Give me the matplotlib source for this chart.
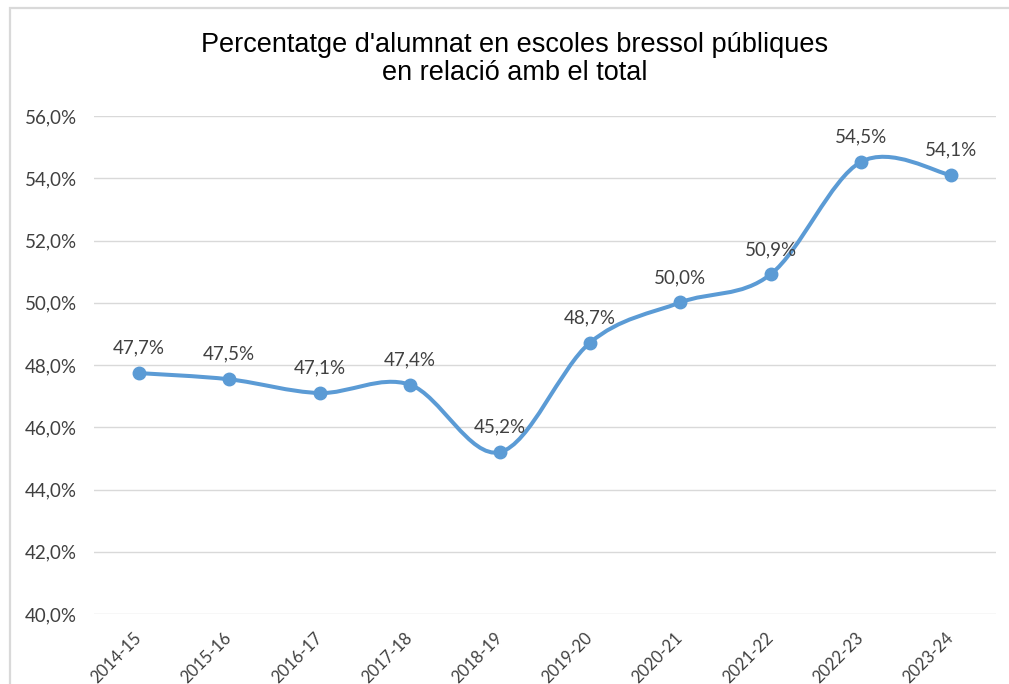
import numpy as np
import matplotlib
matplotlib.use("Agg")
import matplotlib.pyplot as plt
from matplotlib.path import Path
from matplotlib.patches import PathPatch, Rectangle
from matplotlib.ticker import FuncFormatter, MultipleLocator

# data
cursos = ["2014-15", "2015-16", "2016-17", "2017-18", "2018-19",
          "2019-20", "2020-21", "2021-22", "2022-23", "2023-24"]
percentatge = [47.74, 47.54, 47.1, 47.37, 45.2, 48.72, 50.01, 50.91, 54.52, 54.1]

blue = "#5b9bd5"
grid_col = "#d9d9d9"
text_col = "#404040"
tick_font = "Lato"


def smooth_path(xs, ys):
    # Excel-like smoothed line: cubic bezier segments with Catmull-Rom tangents
    pts = np.column_stack([xs, ys])
    ext = np.vstack([pts[0], pts, pts[-1]])
    verts = [tuple(pts[0])]
    codes = [Path.MOVETO]
    for i in range(len(pts) - 1):
        p0, p1, p2, p3 = ext[i], ext[i + 1], ext[i + 2], ext[i + 3]
        c1 = p1 + (p2 - p0) / 6.0
        c2 = p2 - (p3 - p1) / 6.0
        verts += [tuple(c1), tuple(c2), tuple(p2)]
        codes += [Path.CURVE4] * 3
    return Path(verts, codes)


fig = plt.figure(figsize=(10.09, 6.84), dpi=100)
ax = fig.add_axes([94 / 1009, 70 / 684, 902 / 1009, 498 / 684])

x = np.arange(len(cursos))
ax.add_patch(PathPatch(smooth_path(x, percentatge), facecolor="none",
                       edgecolor=blue, lw=2.9, capstyle="round", zorder=3))
ax.plot(x, percentatge, "o", color=blue, markersize=9, zorder=4)

for xi, v in zip(x, percentatge):
    ax.annotate(f"{v:.1f}%".replace(".", ","), (xi, v), xytext=(0, 18),
                textcoords="offset points", ha="center", va="center",
                fontsize=13.5, color=text_col, family=tick_font)

ax.set_xlim(-0.5, len(cursos) - 0.5)
ax.set_ylim(40, 56)
ax.yaxis.set_major_locator(MultipleLocator(2))
ax.yaxis.set_major_formatter(FuncFormatter(lambda v, p: f"{v:.1f}%".replace(".", ",")))
ax.grid(axis="y", color=grid_col, lw=1)
ax.set_axisbelow(True)
for s in ax.spines.values():
    s.set_visible(False)

ax.set_xticks(x)
ax.set_xticklabels(cursos, rotation=45, ha="right", va="center",
                   rotation_mode="anchor", family=tick_font, fontsize=12,
                   color=text_col)
ax.tick_params(axis="x", length=0, pad=15)
ax.tick_params(axis="y", length=0, pad=12.5, labelsize=13.5, labelcolor=text_col)
for lbl in ax.get_yticklabels():
    lbl.set_family(tick_font)

fig.text(515 / 1009, 1 - 59 / 684,
         "Percentatge d'alumnat en escoles bressol públiques\nen relació amb el total",
         ha="center", va="center", fontsize=19.5, family="Liberation Sans",
         color="#000000", linespacing=1.05)

# chart area border (only left and top visible in the crop)
fig.add_artist(Rectangle((10 / 1009, -0.1), 1.2, (684 - 8) / 684 + 0.1,
                         transform=fig.transFigure, fill=False,
                         edgecolor=grid_col, lw=1.6, clip_on=False))

fig.savefig("out.png", dpi=100)
